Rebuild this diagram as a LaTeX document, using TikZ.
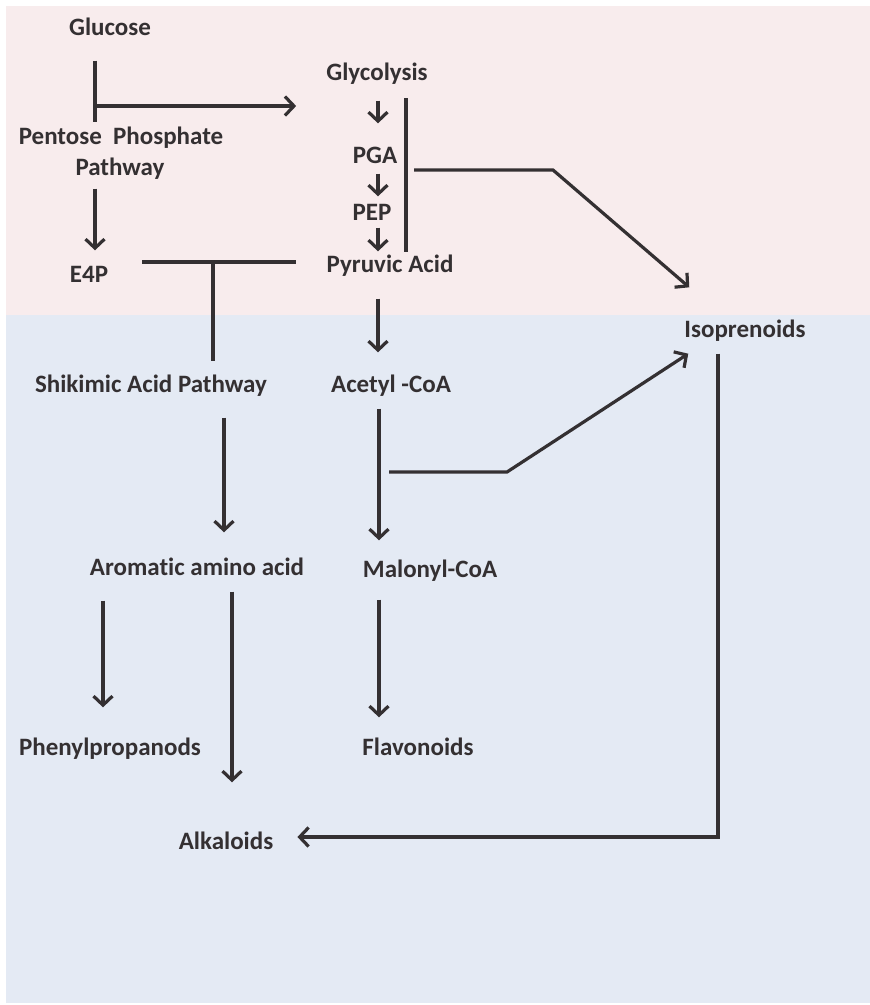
\documentclass[tikz,border=0pt]{standalone}
\usepackage{fontspec}
\setmainfont[Ligatures=NoCommon]{Carlito}
\usetikzlibrary{arrows.meta,calc}
\definecolor{topbg}{RGB}{248,236,237}
\definecolor{lowbg}{RGB}{228,234,244}
\definecolor{ink}{RGB}{52,48,50}
\begin{document}
\begin{tikzpicture}[x=1pt,y=-1pt,
	metab/.style={text=ink, font=\fontsize{25}{29}\selectfont\bfseries, inner sep=0pt, text height=16pt, text depth=5pt},
	link/.style={draw=ink, line width=3.2pt},
	flow/.style={link, -{Straight Barb[length=9pt,width=19pt,line width=3.2pt]}}]
	\useasboundingbox (0,0) rectangle (870,1005);
	\fill[white] (0,0) rectangle (870,1005);
	\fill[topbg] (6,6) rectangle (870,315);
	\fill[lowbg] (6,315) rectangle (870,1003);
	% metabolites
	\node[metab] (glucose) at (110,30) {Glucose};
	\node[metab] (glyco) at (377,75) {Glycolysis};
	\node[metab] (pentose) at (121,139) {Pentose\ \ Phosphate};
	\node[metab] (pathway) at (120,170) {Pathway};
	\node[metab] (pga) at (375,158) {PGA};
	\node[metab] (pep) at (372,215) {PEP};
	\node[metab] (e4p) at (89,277) {E4P};
	\node[metab] (pyr) at (390,267) {Pyruvic Acid};
	\node[metab] (iso) at (745,332) {Isoprenoids};
	\node[metab] (shik) at (151,387) {Shikimic Acid Pathway};
	\node[metab] (acetyl) at (391,387) {Acetyl -CoA};
	\node[metab] (arom) at (197,570) {Aromatic amino\ acid};
	\node[metab] (malonyl) at (430,572) {Malonyl-CoA};
	\node[metab] (phen) at (110,750) {Phenylpropanods};
	\node[metab] (flav) at (418,750) {Flavonoids};
	\node[metab] (alk) at (226,844) {Alkaloids};
	% junctions
	\coordinate (gluj) at (95,106);
	\coordinate (bar1) at (406,98);
	\coordinate (bar2) at (406,252);
	\coordinate (pgaj) at (553,170);
	\coordinate (e4pj) at (213,262);
	\coordinate (acj) at (507,472);
	\coordinate (isoj) at (718,837);
	% upper part
	\draw[link, shorten <=20pt, shorten >=6pt] (glucose.south -| gluj) -- (pentose.north -| gluj);
	\draw[flow, shorten >=30pt] (gluj) -- (glyco.west |- gluj);
	\draw[flow, shorten <=8pt, shorten >=16pt] (pathway.south -| gluj) -- (e4p.north -| gluj);
	\draw[flow, shorten <=15pt, shorten >=24pt] ([xshift=1pt]glyco.south) -- ([xshift=1pt]glyco.south |- pga.north);
	\draw[flow, shorten <=5pt, shorten >=8pt] ([xshift=3pt]pga.south) -- ([xshift=3pt]pga.south |- pep.north);
	\draw[flow, shorten <=2pt, shorten >=5pt] ([xshift=6pt]pep.south) -- ([xshift=6pt]pep.south |- pyr.north);
	\draw[link] (bar1) -- (bar2);
	\draw[flow] ([xshift=8pt]bar1 |- pgaj) -- (pgaj) -- ($(iso.north west)+(5,-34)$);
	\draw[link, shorten <=34pt, shorten >=30pt] (e4p.east |- e4pj) -- (pyr.west |- e4pj);
	\draw[link, shorten >=15pt] (e4pj) -- (shik.north -| e4pj);
	% lower part
	\draw[flow, shorten <=21pt, shorten >=24pt] ([xshift=-12pt]pyr.south) -- ([xshift=-12pt]pyr.south |- acetyl.north);
	\draw[flow, shorten <=20pt, shorten >=27pt] ([xshift=73pt]shik.south) -- ([xshift=27pt]arom.north);
	\draw[flow, shorten <=11pt, shorten >=21pt] ([xshift=-12pt]acetyl.south) -- ([xshift=-12pt]acetyl.south |- malonyl.north);
	\draw[flow] ([xshift=-2pt]acetyl.south |- acj) -- (acj) -- ($(iso.south west)+(4,11)$);
	\draw[flow, shorten <=11pt, shorten >=24pt] (iso.south -| isoj) -- (isoj) -- (alk.east |- isoj);
	\draw[flow, shorten <=20pt, shorten >=32pt] ([xshift=-94pt]arom.south) -- ([xshift=-7pt]phen.north);
	\draw[flow, shorten <=11pt, shorten >=51pt] ([xshift=35pt]arom.south) -- ([xshift=35pt]arom.south |- alk.north);
	\draw[flow, shorten <=17pt, shorten >=22pt] ([xshift=-51pt]malonyl.south) -- ([xshift=-51pt]malonyl.south |- flav.north);
\end{tikzpicture}
\end{document}
